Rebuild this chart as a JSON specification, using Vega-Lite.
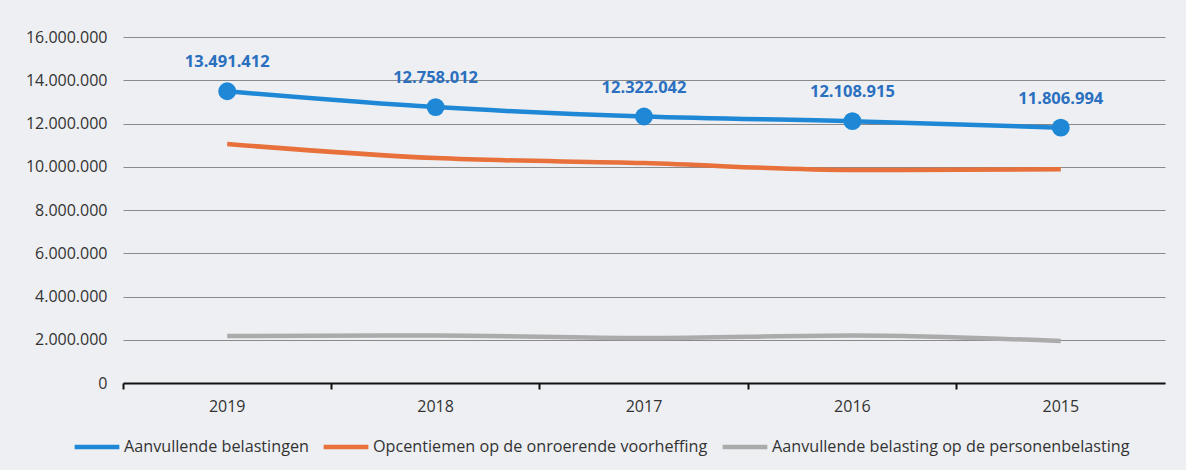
{
  "$schema": "https://vega.github.io/schema/vega-lite/v6.json",
  "width": 1042,
  "height": 346,
  "autosize": {"type": "none"},
  "padding": {"left": 123, "top": 37, "right": 21, "bottom": 87},
  "background": "#edeff2",
  "config": {
    "view": {"stroke": null},
    "font": "Open Sans",
    "locale": {"number": {"decimal": ",", "thousands": ".", "grouping": [3], "currency": ["€", ""]}}
  },
  "data": {
    "values": [
      {"year": "2019", "series": "Aanvullende belastingen", "value": 13491412},
      {"year": "2018", "series": "Aanvullende belastingen", "value": 12758012},
      {"year": "2017", "series": "Aanvullende belastingen", "value": 12322042},
      {"year": "2016", "series": "Aanvullende belastingen", "value": 12108915},
      {"year": "2015", "series": "Aanvullende belastingen", "value": 11806994},
      {"year": "2019", "series": "Opcentiemen op de onroerende voorheffing", "value": 11050000},
      {"year": "2018", "series": "Opcentiemen op de onroerende voorheffing", "value": 10400000},
      {"year": "2017", "series": "Opcentiemen op de onroerende voorheffing", "value": 10170000},
      {"year": "2016", "series": "Opcentiemen op de onroerende voorheffing", "value": 9850000},
      {"year": "2015", "series": "Opcentiemen op de onroerende voorheffing", "value": 9880000},
      {"year": "2019", "series": "Aanvullende belasting op de personenbelasting", "value": 2170000},
      {"year": "2018", "series": "Aanvullende belasting op de personenbelasting", "value": 2200000},
      {"year": "2017", "series": "Aanvullende belasting op de personenbelasting", "value": 2080000},
      {"year": "2016", "series": "Aanvullende belasting op de personenbelasting", "value": 2200000},
      {"year": "2015", "series": "Aanvullende belasting op de personenbelasting", "value": 1940000}
    ]
  },
  "encoding": {
    "x": {
      "field": "year",
      "type": "ordinal",
      "sort": ["2019", "2018", "2017", "2016", "2015"],
      "scale": {"type": "band", "paddingInner": 0, "paddingOuter": 0},
      "axis": {
        "title": null,
        "labelAngle": 0,
        "labelFontSize": 16,
        "labelColor": "#333333",
        "labelPadding": 9,
        "domainColor": "#111111",
        "domainWidth": 2,
        "tickColor": "#111111",
        "tickWidth": 2,
        "tickSize": 6,
        "bandPosition": 0,
        "grid": false
      }
    },
    "y": {
      "field": "value",
      "type": "quantitative",
      "scale": {"domain": [0, 16000000]},
      "axis": {
        "title": null,
        "values": [0, 2000000, 4000000, 6000000, 8000000, 10000000, 12000000, 14000000, 16000000],
        "format": ",d",
        "labelFontSize": 16,
        "labelColor": "#333333",
        "labelPadding": 16,
        "domain": false,
        "ticks": false,
        "gridColor": "#8a8a8a",
        "gridWidth": 1
      }
    }
  },
  "layer": [
    {
      "mark": {"type": "line", "interpolate": "monotone", "strokeWidth": 4.5},
      "encoding": {
        "color": {
          "field": "series",
          "type": "nominal",
          "scale": {
            "domain": ["Aanvullende belastingen", "Opcentiemen op de onroerende voorheffing", "Aanvullende belasting op de personenbelasting"],
            "range": ["#1f88d6", "#e8703a", "#ababab"]
          },
          "legend": {
            "title": null,
            "orient": "none",
            "legendX": -56,
            "legendY": 380,
            "direction": "horizontal",
            "symbolType": "stroke",
            "symbolStrokeWidth": 4.5,
            "symbolSize": 2000,
            "labelFontSize": 16.2,
            "labelColor": "#333333",
            "labelLimit": 500,
            "labelOffset": 2,
            "columnPadding": 5,
            "padding": 5
          }
        }
      }
    },
    {
      "transform": [{"filter": "datum.series === 'Aanvullende belastingen'"}],
      "mark": {"type": "point", "filled": true, "size": 320, "opacity": 1, "color": "#1f88d6"}
    },
    {
      "transform": [{"filter": "datum.series === 'Aanvullende belastingen'"}],
      "mark": {"type": "text", "dy": -29, "fontSize": 16.5, "fontWeight": "bold", "color": "#2a6fc0"},
      "encoding": {"text": {"field": "value", "type": "quantitative", "format": ",d"}}
    }
  ]
}
